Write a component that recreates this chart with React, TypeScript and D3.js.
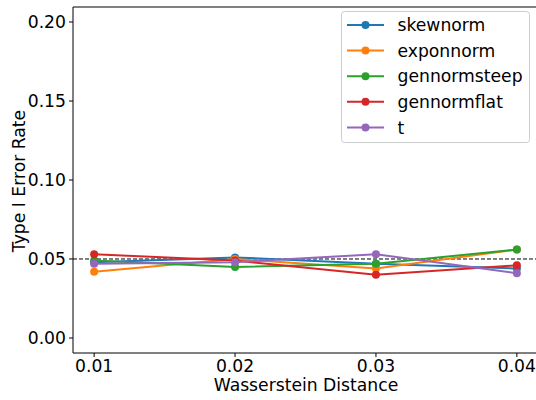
import React from "react";
import * as d3 from "d3";

const xValues = [0.01, 0.02, 0.03, 0.04];
const seriesNames = ["skewnorm", "exponnorm", "gennormsteep", "gennormflat", "t"];
const skewnorm = [0.048, 0.051, 0.047, 0.044];
const exponnorm = [0.042, 0.05, 0.044, 0.056];
const gennormsteep = [0.049, 0.045, 0.047, 0.056];
const gennormflat = [0.053, 0.049, 0.04, 0.046];
const tDist = [0.047, 0.048, 0.053, 0.041];
const seriesValues = [skewnorm, exponnorm, gennormsteep, gennormflat, tDist];
const colors = ["#1f77b4", "#ff7f0e", "#2ca02c", "#d62728", "#9467bd"];
const yTicks = [0.0, 0.05, 0.1, 0.15, 0.2];
const xTicks = [0.01, 0.02, 0.03, 0.04];
const reference = 0.05;

export default function App() {
  const W = 536, H = 400;
  const left = 73, right = 538, top = 7, bottom = 353;
  const x = d3.scaleLinear().domain([0.0085, 0.0415]).range([left, right]);
  const y = d3.scaleLinear().domain([-0.0095, 0.2095]).range([bottom, top]);
  const line = d3.line<number>().x((_, i) => x(xValues[i])).y((v) => y(v));
  const font = "DejaVu Sans";
  const fs = 17.2;
  return (
    <svg width={W} height={H} style={{ position: "absolute", left: 0, top: 0 }} fontFamily={font}>
      <rect width={W} height={H} fill="#fff" />
      <line x1={x(0.0085)} x2={x(0.0415)} y1={y(reference)} y2={y(reference)} stroke="#000" strokeWidth={1} strokeDasharray="4,2" />
      {seriesValues.map((vals, si) => (
        <g key={si}>
          <path d={line(vals) || ""} fill="none" stroke={colors[si]} strokeWidth={2} />
          {vals.map((v, i) => (
            <circle key={i} cx={x(xValues[i])} cy={y(v)} r={4} fill={colors[si]} />
          ))}
        </g>
      ))}
      {/* spines */}
      <line x1={left} x2={left} y1={top} y2={bottom} stroke="#000" strokeWidth={1} />
      <line x1={left} x2={right} y1={bottom} y2={bottom} stroke="#000" strokeWidth={1} />
      <line x1={left} x2={right} y1={top} y2={top} stroke="#000" strokeWidth={1} />
      {yTicks.map((t) => (
        <g key={t}>
          <line x1={left - 4} x2={left} y1={y(t)} y2={y(t)} stroke="#000" />
          <text x={left - 7} y={y(t)} dy="0.36em" textAnchor="end" fontSize={fs} fill="#000">
            {t.toFixed(2)}
          </text>
        </g>
      ))}
      {xTicks.map((t) => (
        <g key={t}>
          <line x1={x(t)} x2={x(t)} y1={bottom} y2={bottom + 4} stroke="#000" />
          <text x={x(t)} y={bottom + 19} textAnchor="middle" fontSize={fs} fill="#000">
            {t.toFixed(2)}
          </text>
        </g>
      ))}
      <text x={306} y={390.5} textAnchor="middle" fontSize={fs} fill="#000">Wasserstein Distance</text>
      <text transform={`translate(24.5,181) rotate(-90)`} textAnchor="middle" fontSize={fs} fill="#000">Type I Error Rate</text>
      {/* legend */}
      <rect x={341.5} y={11.5} width={188} height={131} rx={3} fill="#fff" fillOpacity={0.8} stroke="#ccc" />
      {seriesNames.map((n, i) => {
        const ly = 25 + i * 25.6;
        return (
          <g key={n}>
            <line x1={347} x2={384} y1={ly} y2={ly} stroke={colors[i]} strokeWidth={2} />
            <circle cx={365.5} cy={ly} r={4} fill={colors[i]} />
            <text x={397.5} y={ly} dy="0.36em" fontSize={fs} fill="#000">{n}</text>
          </g>
        );
      })}
    </svg>
  );
}
